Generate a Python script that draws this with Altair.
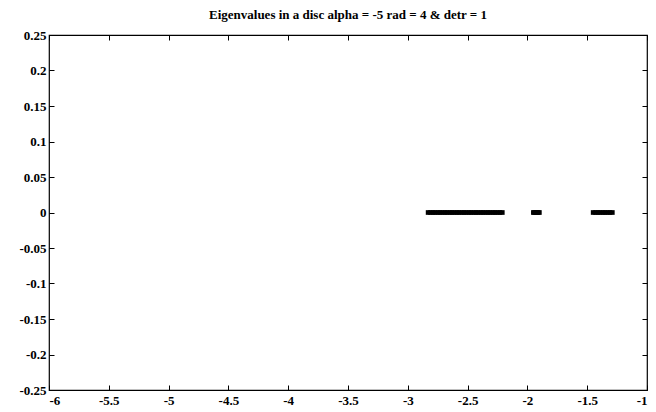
import altair as alt
import pandas as pd

re_cluster1 = [-2.83, -2.81, -2.79, -2.77, -2.75, -2.73, -2.71, -2.69, -2.67, -2.65,
               -2.63, -2.61, -2.59, -2.57, -2.55, -2.53, -2.51, -2.49, -2.47, -2.45,
               -2.43, -2.41, -2.39, -2.37, -2.35, -2.33, -2.31, -2.29, -2.27, -2.25,
               -2.23, -2.21]
re_cluster2 = [-1.95, -1.94, -1.93, -1.92, -1.91, -1.90]
re_cluster3 = [-1.45, -1.43, -1.41, -1.39, -1.37, -1.35, -1.33, -1.31, -1.29]
im_value = 0.0

x_ticks = [-6, -5.5, -5, -4.5, -4, -3.5, -3, -2.5, -2, -1.5, -1]
y_ticks = [0.25, 0.2, 0.15, 0.1, 0.05, 0, -0.05, -0.1, -0.15, -0.2, -0.25]

re_all = re_cluster1 + re_cluster2 + re_cluster3
df = pd.DataFrame({"re": re_all, "im": [im_value] * len(re_all)})

FONT = "Liberation Serif"
LBL = "replace(format(datum.value, '~g'), '\u2212', '-')"
xs = alt.Scale(domain=[-6, -1], nice=False, zero=False)
ys = alt.Scale(domain=[-0.25, 0.25], nice=False, zero=False)

base = alt.Chart(df)

points = base.mark_point(filled=True, shape="square", size=22, color="black", opacity=1,
                         strokeWidth=0).encode(
    x=alt.X("re:Q", scale=xs, axis=alt.Axis(values=x_ticks, labelExpr=LBL, title=None, domain=False,
                                            ticks=False, labelFont=FONT, labelFontWeight="bold",
                                            labelFontSize=13, labelColor="black", labelPadding=4,
                                            grid=False)),
    y=alt.Y("im:Q", scale=ys, axis=alt.Axis(values=y_ticks, labelExpr=LBL, title=None, domain=False,
                                            ticks=False, labelFont=FONT, labelFontWeight="bold",
                                            labelFontSize=13, labelColor="black", labelPadding=3,
                                            grid=False)),
)

tick_ax = dict(labels=False, domain=False, ticks=True, tickSize=5, tickColor="black",
               tickWidth=1, title=None, grid=False, offset=-5)

ticks_bl = base.mark_point(opacity=0).encode(
    x=alt.X("re:Q", scale=xs, axis=alt.Axis(values=x_ticks, orient="bottom", **tick_ax)),
    y=alt.Y("im:Q", scale=ys, axis=alt.Axis(values=y_ticks, orient="left", **tick_ax)),
)
ticks_tr = base.mark_point(opacity=0).encode(
    x=alt.X("re:Q", scale=xs, axis=alt.Axis(values=x_ticks, orient="top", **tick_ax)),
    y=alt.Y("im:Q", scale=ys, axis=alt.Axis(values=y_ticks, orient="right", **tick_ax)),
)

chart = alt.layer(points, ticks_bl, ticks_tr).resolve_axis(
    x="independent", y="independent"
).properties(
    width=598, height=355,
    title=alt.TitleParams("Eigenvalues in a disc alpha = -5 rad = 4 & detr = 1",
                          font=FONT, fontSize=13, fontWeight="bold", color="black", offset=7),
    padding={"left": 49, "top": 35, "right": 9, "bottom": 22},
    autosize=alt.AutoSizeParams(type="none"),
    background="white",
).configure_view(stroke="black", strokeWidth=1.2)

chart.save("out.html", embed_options={"renderer": "svg", "actions": False})
